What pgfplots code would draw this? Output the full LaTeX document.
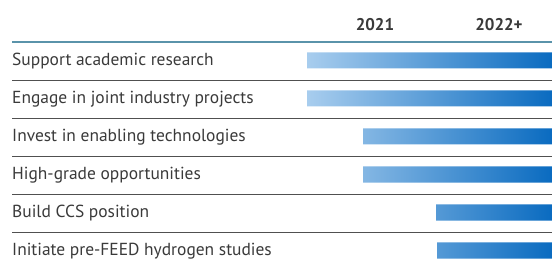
\documentclass[border=0pt]{standalone}
\usepackage{pgfplots}
\pgfplotsset{compat=1.18}
\usepackage{fontspec}
\setmainfont{PT Sans}
\definecolor{barlight}{HTML}{A8CDEE}
\definecolor{bardark}{HTML}{0A6BC0}
\definecolor{topline}{HTML}{5A93AA}
\definecolor{sepline}{HTML}{505050}
\definecolor{txt}{HTML}{3A3A3A}
\begin{document}
\begin{tikzpicture}
\useasboundingbox (-12bp,0) rectangle (540bp,265bp);
\begin{axis}[
 scale only axis, width=540bp, height=222.5bp,
 xmin=12, xmax=552, ymin=0, ymax=222.5,
 axis line style={draw=none},
 xbar stacked, bar width=16bp,
 xtick={375,499}, xticklabels={2021,2022+}, xticklabel pos=upper,
 xticklabel style={font=\fontsize{17}{17}\selectfont\bfseries, text=txt, anchor=base, inner sep=0pt, yshift=11.8bp},
 ytick={203.5,165.5,127.5,89.5,51.5,13.5},
 yticklabels={Support academic research, Engage in joint industry projects, Invest in enabling technologies, High-grade opportunities, Build CCS position, Initiate pre-FEED hydrogen studies},
 yticklabel style={font=\fontsize{17.5}{17.5}\selectfont, text=txt, anchor=base west, inner sep=0pt, yshift=-3.8bp},
 minor ytick={32.5,70.5,108.5,146.5,184.5},
 yminorgrids, minor grid style={sepline, line width=1.5bp},
 extra y ticks={222.5}, extra y tick labels={},
 extra y tick style={grid=major, major grid style={topline, line width=2bp}},
 major tick length=0pt, minor tick length=0pt,
 clip=false,
]
\addplot[draw=none, fill=none] coordinates {(307,204.5) (307,166.5) (363,128.5) (363,90.5) (436,52.5) (437,14.5)};
\addplot[draw=none, left color=barlight, right color=bardark] coordinates {(245,204.5) (245,166.5) (189,128.5) (189,90.5) (116,52.5) (115,14.5)};
\end{axis}
\end{tikzpicture}
\end{document}
